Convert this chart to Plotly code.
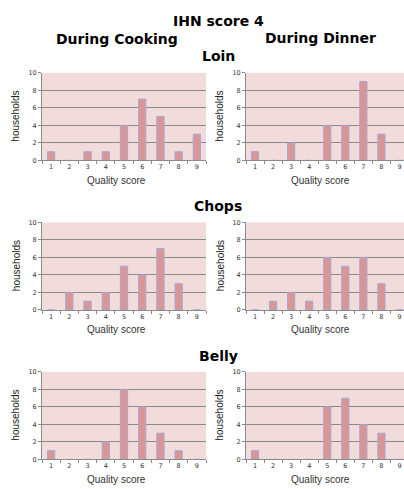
import plotly.graph_objects as go

scores = ["1", "2", "3", "4", "5", "6", "7", "8", "9"]
loin_cooking = [1, 0, 1, 1, 4, 7, 5, 1, 3]
loin_dinner = [1, 0, 2, 0, 4, 4, 9, 3, 0]
chops_cooking = [0, 2, 1, 2, 5, 4, 7, 3, 0]
chops_dinner = [0, 1, 2, 1, 6, 5, 6, 3, 0]
belly_cooking = [1, 0, 0, 2, 8, 6, 3, 1, 0]
belly_dinner = [1, 0, 0, 0, 6, 7, 4, 3, 0]

main_title = "IHN score 4"
col_titles = ["During Cooking", "During Dinner"]
row_titles = ["Loin", "Chops", "Belly"]
x_title = "Quality score"
y_title = "households"

W, H = 404, 489
panels = [
    (loin_cooking, 0, 0), (loin_dinner, 0, 1),
    (chops_cooking, 1, 0), (chops_dinner, 1, 1),
    (belly_cooking, 2, 0), (belly_dinner, 2, 1),
]
row_px = [(70, 159), (222, 311), (374, 463)]
col_px = [(42, 206), (246, 404)]
col_range = [[-0.5, 8.5], [-0.5, 8.25]]

BG = "#F2DCDB"
BAR = "#D99694"
EDGE = "#A3A9D8"
GRID = "#8A8A8A"
TICKFONT = dict(family="DejaVu Sans", size=6.5, color="#333333")

fig = go.Figure()
annotations = []
for i, (vals, r, c) in enumerate(panels):
    n = "" if i == 0 else str(i + 1)
    fig.add_trace(go.Bar(
        x=scores, y=vals, xaxis="x" + n, yaxis="y" + n,
        marker=dict(color=BAR, line=dict(color=EDGE, width=1)),
        width=0.4, showlegend=False, hoverinfo="x+y",
    ))
    top, bot = row_px[r]
    left, right = col_px[c]
    fig.layout["xaxis" + n] = dict(
        domain=[left / W, right / W], anchor="y" + n, type="category",
        range=col_range[c], tickson="boundaries", ticks="outside", ticklen=3,
        tickcolor=GRID, showline=True, linecolor=GRID, linewidth=1,
        showgrid=False, tickfont=TICKFONT, fixedrange=True,
    )
    fig.layout["yaxis" + n] = dict(
        domain=[1 - bot / H, 1 - top / H], anchor="x" + n, range=[0, 10],
        dtick=2, ticks="outside", ticklen=3, tickcolor=GRID,
        showline=True, linecolor=GRID, linewidth=1, showgrid=True,
        gridcolor=GRID, gridwidth=1, zeroline=False, tickfont=TICKFONT,
        fixedrange=True,
    )
    annotations.append(dict(
        text=x_title, x=(117 if c == 0 else 320) / W,
        y=1 - (bot + 20) / H, xref="paper", yref="paper",
        showarrow=False, font=dict(family="Liberation Sans", size=10, color="#333333"),
        xanchor="center", yanchor="middle",
    ))
    annotations.append(dict(
        text=y_title, x=(left - 26) / W, y=1 - (top + bot) / 2 / H,
        xref="paper", yref="paper", textangle=-90,
        showarrow=False, font=dict(family="Liberation Sans", size=10, color="#222222"),
        xanchor="center", yanchor="middle",
    ))

TITLEFONT = dict(family="DejaVu Sans", size=14, color="#000000", weight="bold")
annotations.append(dict(text="<b>" + main_title + "</b>", x=218 / W, y=1 - 17 / H,
                        xref="paper", yref="paper", showarrow=False,
                        font=TITLEFONT, xanchor="center", yanchor="middle"))
annotations.append(dict(text="<b>" + col_titles[0] + "</b>", x=117 / W, y=1 - 36 / H,
                        xref="paper", yref="paper", showarrow=False,
                        font=TITLEFONT, xanchor="center", yanchor="middle"))
annotations.append(dict(text="<b>" + col_titles[1] + "</b>", x=320 / W, y=1 - 35 / H,
                        xref="paper", yref="paper", showarrow=False,
                        font=TITLEFONT, xanchor="center", yanchor="middle"))
for (t, yc) in zip(row_titles, [53, 205, 358]):
    annotations.append(dict(text="<b>" + t + "</b>", x=218 / W, y=1 - yc / H,
                            xref="paper", yref="paper", showarrow=False,
                            font=TITLEFONT, xanchor="center", yanchor="middle"))

fig.update_layout(
    width=W, height=H, margin=dict(l=0, r=0, t=0, b=0),
    paper_bgcolor="white", plot_bgcolor=BG,
    annotations=annotations, bargap=0.6, showlegend=False,
)
fig.write_html(
    "out.html", config={"displayModeBar": False},
    post_script="document.body.style.margin='0';document.body.style.overflow='hidden';",
)
